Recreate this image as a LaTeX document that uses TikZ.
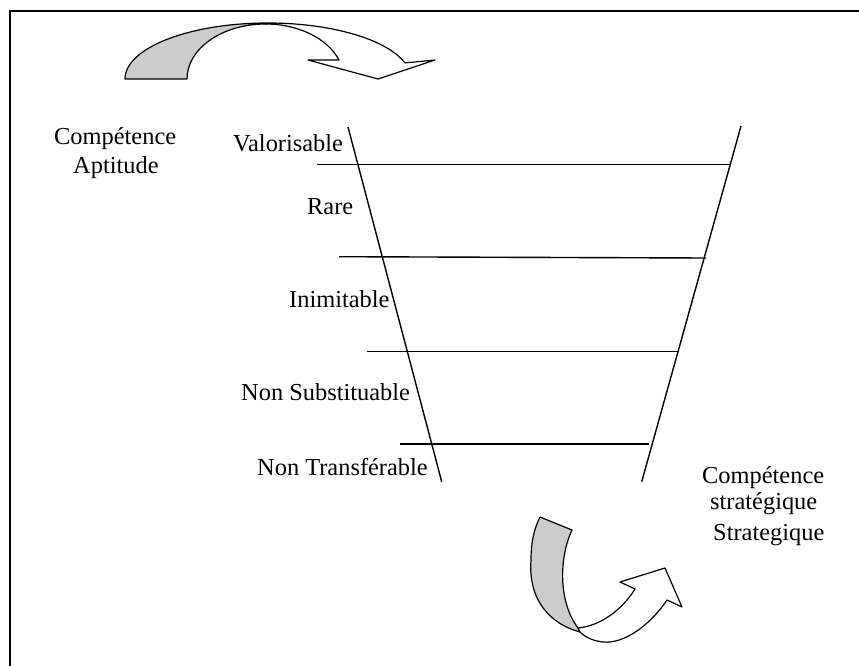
\documentclass[tikz,border=0pt]{standalone}
\usepackage{fontspec}
\setmainfont{Liberation Serif}
\begin{document}
\begin{tikzpicture}[x=1pt,y=-1pt,
  lbl/.style={inner sep=0pt,font=\fontsize{24.4}{28}\selectfont},
  rung/.style={line width=1.4pt},
  side/.style={line width=1.4pt},
  ribbonback/.style={draw=black,line width=1.2pt,fill=black!20,line join=round},
  ribbonfront/.style={draw=black,line width=1.2pt,fill=white,line join=round},
  frameline/.style={line width=2pt}]
\useasboundingbox (0,0) rectangle (859,666);

% outer frame (top and left edges)
\coordinate (fTL) at (10,11);
\coordinate (fTR) at (859,11);
\coordinate (fBL) at (10,666);
\draw[frameline] (fTR) -- (fTL) -- (fBL);

% curved arrow at the top: grey back of the ribbon, then its white front with the head
% (y axis points down, so the upper half of an ellipse runs from 180 to 270 degrees)
\path[ribbonback] (125,79) arc[start angle=180,end angle=270,x radius=143,y radius=56]
   -- (265.4,24) arc[start angle=270,end angle=180,x radius=78.4,y radius=55] -- cycle;
\path[ribbonfront] (268,23) arc[start angle=270,end angle=343.3,x radius=143,y radius=56]
   -- (435,60) -- (378,79) -- (308,60) -- (339,60)
   arc[start angle=339.8,end angle=270,x radius=78.4,y radius=55] -- cycle;

% curved arrow at the bottom
\path[ribbonback] (540,517) -- (572,530)
   .. controls (560,555) and (557,600) .. (578,628) -- (580,632)
   .. controls (550,624) and (528,600) .. (531,560)
   .. controls (531,540) and (535,527) .. (540,517) -- cycle;
\path[ribbonfront] (578,628)
   .. controls (600,626) and (622,610) .. (635,589)
   -- (620,582) -- (665,568) -- (682,607) -- (667,600)
   .. controls (648,628) and (622,644) .. (603,642)
   .. controls (593,641) and (585,637) .. (580,632) -- cycle;

% funnel sides
\coordinate (lTop) at (348,127);
\coordinate (lBot) at (441.7,481.7);
\coordinate (rTop) at (741,126);
\coordinate (rBot) at (641.7,481.7);
\draw[side] (lTop) -- (lBot);
\draw[side] (rTop) -- (rBot);

% funnel rungs
\coordinate (r1a) at (317,164.5);  \coordinate (r1b) at (730,164.5);
\coordinate (r2a) at (339,256.7);  \coordinate (r2b) at (706,258);
\coordinate (r3a) at (367,351.7);  \coordinate (r3b) at (679,351.7);
\coordinate (r4a) at (400,444);    \coordinate (r4b) at (649,444);
\draw[rung] (r1a) -- (r1b);
\draw[rung] (r2a) -- (r2b);
\draw[rung] (r3a) -- (r3b);
\draw[rung] (r4a) -- (r4b);

% labels
\node[lbl,anchor=base west] (compA) at (54,145) {Compétence};
\node[lbl,anchor=base west] (apt) at (73,173) {Aptitude};
\node[lbl,anchor=base west] (val) at (233,151) {Valorisable};
\node[lbl,anchor=base west] (rare) at (307,214) {Rare};
\node[lbl,anchor=base west] (inim) at (289,307.3) {Inimitable};
\node[lbl,anchor=base west] (nsub) at (241,400.7) {Non Substituable};
\node[lbl,anchor=base west] (ntra) at (257,475) {Non Transférable};
\node[lbl,anchor=base west] (compS) at (702,483) {Compétence};
\node[lbl,anchor=base west] (strat) at (710,509) {stratégique};
\node[lbl,anchor=base west] (strat2) at (713,540) {Strategique};
\end{tikzpicture}
\end{document}
